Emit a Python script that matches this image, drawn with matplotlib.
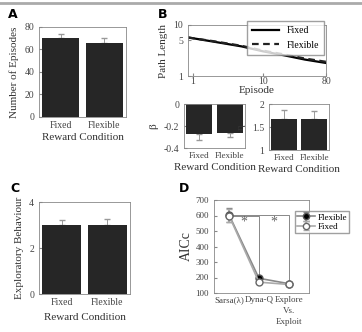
import numpy as np
import matplotlib.pyplot as plt
from matplotlib.lines import Line2D

plt.rcParams['font.family'] = ['Liberation Serif', 'DejaVu Serif']
plt.rcParams['font.size'] = 7
plt.rcParams['axes.edgecolor'] = '#888888'
plt.rcParams['axes.linewidth'] = 0.6
plt.rcParams['xtick.direction'] = 'in'
plt.rcParams['ytick.direction'] = 'in'
plt.rcParams['xtick.color'] = '#888888'
plt.rcParams['ytick.color'] = '#888888'
plt.rcParams['xtick.labelcolor'] = '#444444'
plt.rcParams['ytick.labelcolor'] = '#444444'
plt.rcParams['axes.labelcolor'] = '#333333'
plt.rcParams['xtick.major.size'] = 2
plt.rcParams['ytick.major.size'] = 2

conds = ['Fixed', 'Flexible']
episodes_mean = [70, 66]
episodes_err = [4, 4]

ep_x = [0.85, 1, 2, 5, 10, 20, 40, 80]
path_fixed = [5.7, 5.5, 4.7, 3.8, 3.05, 2.55, 2.1, 1.8]
path_flex = [5.7, 5.5, 4.8, 3.9, 3.15, 2.65, 2.2, 1.9]

beta_mean = [-0.27, -0.26]
beta_err = [0.06, 0.04]
eta_mean = [1.67, 1.68]
eta_err = [0.20, 0.16]

explore_mean = [3.0, 3.02]
explore_err = [0.2, 0.22]

models = ['Sarsa(λ)', 'Dyna-Q', 'Explore\nVs.\nExploit']
aic_flex = [605, 195, 160]
aic_flex_err = [45, 10, 8]
aic_fixed = [600, 170, 155]
aic_fixed_err = [40, 8, 8]

W, H = 362, 332
fig = plt.figure(figsize=(W / 100, H / 100), dpi=100)

def ax_at(x0, y0, x1, y1):
    return fig.add_axes([x0 / W, 1 - y1 / H, (x1 - x0) / W, (y1 - y0) / H])

bar_col = '#262626'

def bars(ax, means, errs, down=False, tsize=7):
    x = np.arange(1, len(means) + 1)
    ax.bar(x, means, width=0.86, color=bar_col, zorder=2)
    if down:
        yerr = [errs, [0] * len(errs)]
    else:
        yerr = [[0] * len(errs), errs]
    ax.errorbar(x, means, yerr=yerr, fmt='none', ecolor='#999999',
                capsize=2, elinewidth=0.7, zorder=1)
    ax.set_xticks(x)
    ax.set_xticklabels(conds, fontsize=tsize)
    ax.set_xlim(0.5, len(means) + 0.5)
    ax.tick_params(axis='x', length=0, pad=3)

# top gray rule
fig.add_artist(Line2D([0, 1], [1 - 3 / H, 1 - 3 / H], color='#aaaaaa', lw=2))

# A
axA = ax_at(39, 27, 126, 117)
bars(axA, episodes_mean, episodes_err)
axA.set_ylim(0, 80)
axA.set_yticks([0, 20, 40, 60, 80])
axA.set_ylabel('Number of Episodes', fontsize=8)
axA.set_xlabel('Reward Condition', fontsize=8, labelpad=2)

# B top
axB = ax_at(188, 25, 326, 76)
axB.plot(ep_x, path_fixed, color='black', lw=1.6, label='Fixed')
axB.plot(ep_x, path_flex, color='#222222', lw=1.6, ls=(0, (3, 2)), label='Flexible')
axB.set_xscale('log')
axB.set_yscale('log')
axB.set_xlim(0.85, 80)
axB.set_ylim(1, 10)
axB.set_xticks([1, 10, 80])
axB.set_xticklabels(['1', '10', '80'])
axB.set_yticks([1, 5, 10])
axB.set_yticklabels(['1', '5', '10'])
axB.minorticks_off()
axB.tick_params(axis='x', pad=1)
axB.set_xlabel('Episode', fontsize=8, labelpad=0)
axB.set_ylabel('Path Length', fontsize=8)
axB.legend(loc='upper right', bbox_to_anchor=(1.02, 1.17), fontsize=7,
           frameon=True, fancybox=False, edgecolor='#888888', handlelength=2.8,
           borderpad=0.5, labelspacing=0.6)

# beta
axBe = ax_at(184, 104, 245, 148)
bars(axBe, beta_mean, beta_err, down=True, tsize=6.5)
axBe.set_ylim(-0.4, 0)
axBe.set_yticks([-0.4, -0.2, 0])
axBe.set_yticklabels(['-0.4', '-0.2', '0'])
axBe.set_ylabel('β', fontsize=8)
axBe.set_xlabel('Reward Condition', fontsize=8, labelpad=2)

# eta
axEt = ax_at(269, 104, 329, 150)
bars(axEt, [m - 1 for m in eta_mean], eta_err, tsize=6.5)
axEt.set_ylim(0, 1)
axEt.set_yticks([0, 0.5, 1])
axEt.set_yticklabels(['1', '1.5', '2'])
axEt.set_ylabel('η', fontsize=8)
axEt.set_xlabel('Reward Condition', fontsize=8, labelpad=2)

# C
axC = ax_at(39, 202, 130, 294)
bars(axC, explore_mean, explore_err)
axC.set_ylim(0, 4)
axC.set_yticks([0, 2, 4])
axC.set_ylabel('Exploratory Behaviour', fontsize=8)
axC.set_xlabel('Reward Condition', fontsize=8, labelpad=4)

# D
axD = ax_at(214, 200, 309, 293)
xm = np.arange(1, 4)
axD.errorbar(xm, aic_flex, yerr=aic_flex_err, color='#888888', lw=1.2,
             marker='o', ms=5, mfc='black', mec='#555555', capsize=2,
             label='Flexible', zorder=3)
axD.errorbar(xm, aic_fixed, yerr=aic_fixed_err, color='#aaaaaa', lw=1.2,
             marker='o', ms=5, mfc='white', mec='#666666', capsize=2,
             label='Fixed', zorder=3)
axD.plot([1, 2, 2], [598, 598, 185], color='#888888', lw=0.7)
axD.plot([1, 3, 3], [606, 606, 168], color='#888888', lw=0.7)
axD.text(1.5, 560, '*', ha='center', va='center', fontsize=10, color='#666666')
axD.text(2.5, 560, '*', ha='center', va='center', fontsize=10, color='#666666')
axD.set_xlim(0.5, 3.67)
axD.set_ylim(100, 700)
axD.set_yticks(range(100, 701, 100))
axD.tick_params(axis='y', labelsize=6.5)
axD.set_xticks(xm)
axD.set_xticklabels(models, va='top', linespacing=1.5, fontsize=6.5)
axD.tick_params(axis='x', length=0, pad=2)
axD.set_ylabel('AICc', fontsize=10, labelpad=2)
axD.legend(loc='upper left', bbox_to_anchor=(0.8, 0.93), fontsize=6.5,
           frameon=True, fancybox=False, edgecolor='#888888', handlelength=2.0,
           borderpad=0.25, labelspacing=0.1, handletextpad=0.3,
           markerscale=0.9)

for lab, x, y in [('A', 13, 15), ('B', 163, 15), ('C', 15, 189), ('D', 184, 189)]:
    fig.text(x / W, 1 - y / H, lab, fontsize=9, fontweight='bold',
             family='DejaVu Sans', ha='center', va='center')

fig.savefig('out.png', dpi=100)
